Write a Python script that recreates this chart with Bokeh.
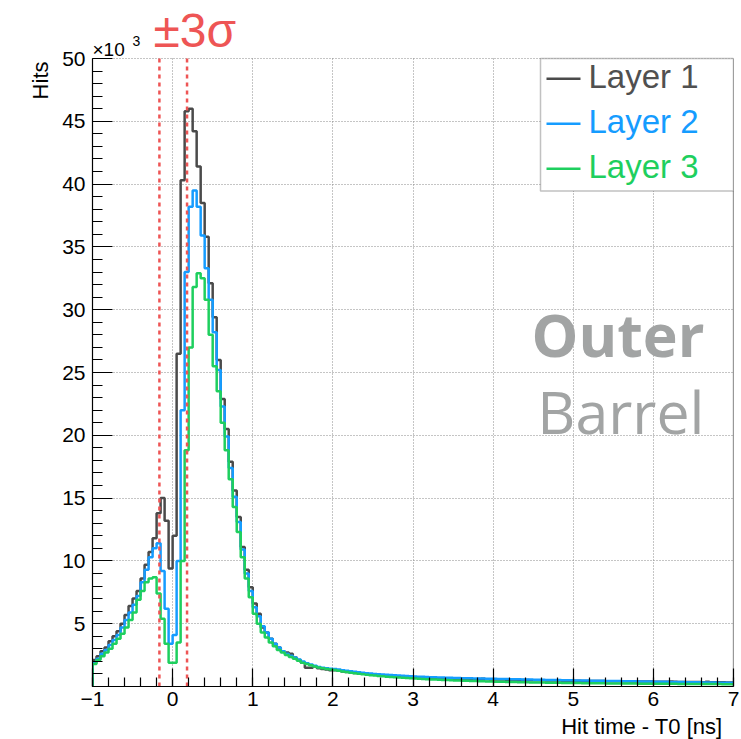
import numpy as np
from math import pi
from bokeh.plotting import figure
from bokeh.layouts import column, row
from bokeh.models import Label, BoxAnnotation, FixedTicker, ColumnDataSource
from bokeh.embed import file_html
from bokeh.resources import INLINE

# ---------------- data (hits in units of 10^3 per 0.05 ns bin) ----------------
X_MIN, X_MAX, N_BINS = -1.0, 7.0, 160
BIN_EDGES = np.linspace(X_MIN, X_MAX, N_BINS + 1)
Y_MAX = 50.0

LAYER1 = [
    2.1, 2.4, 2.8, 3.1, 3.6, 4.0, 4.4, 5.0, 5.7, 6.4,
    7.0, 7.6, 8.6, 9.7, 10.7, 11.8, 13.8, 15.0, 13.2, 9.4,
    12.0, 26.5, 40.3, 45.8, 46.0, 44.2, 41.4, 38.5, 35.8, 32.1,
    29.4, 26.0, 22.9, 20.5, 17.9, 15.6, 13.5, 11.1, 9.3, 7.9,
    6.6, 5.8, 4.7, 4.3, 3.8, 3.4, 3.1, 2.8, 2.7, 2.6,
    2.3, 2.1, 1.9, 1.5, 1.5, 1.6, 1.45, 1.4, 1.35, 1.3,
    1.30, 1.25, 1.20, 1.16, 1.12, 1.08, 1.05, 1.02, 0.99, 0.96,
    0.94, 0.91, 0.89, 0.87, 0.84, 0.82, 0.80, 0.79, 0.77, 0.75,
    0.74, 0.72, 0.71, 0.70, 0.68, 0.67, 0.66, 0.65, 0.64, 0.63,
    0.62, 0.61, 0.60, 0.60, 0.59, 0.58, 0.60, 0.62, 0.58, 0.56,
    0.56, 0.55, 0.55, 0.54, 0.53, 0.53, 0.52, 0.52, 0.51, 0.50,
    0.50, 0.49, 0.49, 0.48, 0.48, 0.47, 0.47, 0.46, 0.46, 0.45,
    0.45, 0.45, 0.44, 0.44, 0.44, 0.43, 0.43, 0.43, 0.42, 0.42,
    0.42, 0.41, 0.41, 0.41, 0.40, 0.40, 0.40, 0.39, 0.39, 0.39,
    0.38, 0.38, 0.38, 0.37, 0.40, 0.37, 0.36, 0.36, 0.36, 0.35,
    0.35, 0.35, 0.34, 0.38, 0.34, 0.33, 0.33, 0.33, 0.32, 0.32,
]
LAYER2 = [
    1.9, 2.2, 2.6, 2.9, 3.3, 3.7, 4.1, 4.7, 5.3, 5.9,
    6.5, 7.2, 8.3, 9.3, 10.3, 11.0, 11.4, 9.2, 6.2, 3.4,
    4.1, 10.0, 22.0, 33.0, 38.2, 39.5, 38.2, 35.9, 33.3, 30.8,
    28.2, 25.2, 22.3, 19.9, 17.4, 15.1, 13.1, 10.9, 9.0, 7.6,
    6.3, 5.6, 4.8, 4.3, 3.8, 3.4, 3.1, 2.8, 2.6, 2.45,
    2.3, 2.15, 2.0, 1.85, 1.75, 1.65, 1.55, 1.5, 1.45, 1.42,
    1.40, 1.35, 1.30, 1.25, 1.21, 1.17, 1.13, 1.10, 1.06, 1.03,
    1.00, 0.98, 0.95, 0.93, 0.91, 0.89, 0.87, 0.85, 0.83, 0.81,
    0.80, 0.78, 0.77, 0.76, 0.74, 0.73, 0.72, 0.71, 0.70, 0.69,
    0.68, 0.67, 0.66, 0.66, 0.65, 0.64, 0.63, 0.63, 0.62, 0.61,
    0.61, 0.60, 0.59, 0.59, 0.58, 0.57, 0.57, 0.56, 0.55, 0.55,
    0.54, 0.54, 0.53, 0.52, 0.52, 0.51, 0.51, 0.50, 0.50, 0.49,
    0.48, 0.48, 0.47, 0.47, 0.46, 0.46, 0.45, 0.45, 0.44, 0.44,
    0.43, 0.43, 0.42, 0.42, 0.41, 0.41, 0.40, 0.40, 0.39, 0.39,
    0.38, 0.38, 0.37, 0.37, 0.36, 0.36, 0.35, 0.35, 0.34, 0.34,
    0.33, 0.33, 0.32, 0.32, 0.31, 0.31, 0.30, 0.30, 0.29, 0.29,
]
LAYER3 = [
    1.8, 2.1, 2.4, 2.7, 3.0, 3.4, 3.8, 4.2, 4.7, 5.3,
    5.9, 6.9, 7.6, 8.3, 8.6, 8.7, 7.4, 5.4, 3.4, 1.9,
    1.9, 3.5, 10.0, 18.8, 27.0, 31.8, 32.9, 32.5, 30.8, 28.0,
    25.5, 23.5, 21.0, 18.8, 16.5, 14.3, 12.3, 10.3, 8.6, 7.1,
    5.8, 5.0, 4.3, 3.9, 3.5, 3.2, 2.9, 2.7, 2.5, 2.35,
    2.2, 2.05, 1.9, 1.8, 1.7, 1.6, 1.52, 1.46, 1.4, 1.36,
    1.32, 1.26, 1.20, 1.15, 1.10, 1.05, 1.01, 0.97, 0.93, 0.90,
    0.87, 0.84, 0.81, 0.78, 0.76, 0.73, 0.71, 0.69, 0.67, 0.65,
    0.63, 0.61, 0.60, 0.58, 0.56, 0.55, 0.53, 0.52, 0.51, 0.49,
    0.48, 0.47, 0.46, 0.45, 0.44, 0.43, 0.42, 0.41, 0.40, 0.39,
    0.38, 0.38, 0.37, 0.36, 0.35, 0.35, 0.34, 0.33, 0.33, 0.32,
    0.32, 0.31, 0.31, 0.30, 0.30, 0.29, 0.29, 0.28, 0.28, 0.27,
    0.27, 0.27, 0.26, 0.26, 0.26, 0.25, 0.25, 0.25, 0.24, 0.24,
    0.24, 0.24, 0.23, 0.23, 0.23, 0.23, 0.22, 0.22, 0.22, 0.22,
    0.22, 0.21, 0.21, 0.21, 0.21, 0.21, 0.20, 0.20, 0.20, 0.20,
    0.20, 0.20, 0.19, 0.19, 0.19, 0.19, 0.19, 0.18, 0.18, 0.18,
]
SERIES_NAMES = ["Layer 1", "Layer 2", "Layer 3"]
SERIES = [LAYER1, LAYER2, LAYER3]
LINE_COLORS = ["#4a4a4a", "#159cff", "#1ecf5e"]
TEXT_COLORS = ["#505050", "#159cff", "#1ecf5e"]

SIGMA_LINES = [-0.165, 0.18]          # +-3 sigma window [ns]
X_TICKS = [-1, 0, 1, 2, 3, 4, 5, 6, 7]
X_MINOR = [round(-1 + 0.2 * i, 2) for i in range(41)]
Y_TICKS = [5, 10, 15, 20, 25, 30, 35, 40, 45, 50]
Y_MINOR = list(range(0, 51))

# ---------------- layout (pixels of the 741x739 page) ----------------
W, H = 741, 739
LEFT_W = 58          # strip holding the "Hits" title
BOTTOM_H = 25        # strip holding the x title
FL, FR, FT, FB = 92, 733, 58, 686   # edges of the drawn box (y=0..50)
MAIN_H = H - BOTTOM_H


def dx(px):
    return X_MIN + (px - FL) * (X_MAX - X_MIN) / (FR - FL)


def dy(py):
    return (FB - py) * Y_MAX / (FB - FT)


FONT = "Liberation Sans"

# main figure: the frame reaches up to the top of the page so the texts
# above the box are not clipped; axis and grids are bounded to 0..50
p = figure(width=W - LEFT_W, height=MAIN_H, x_range=(X_MIN, X_MAX), y_range=(0, dy(0)),
           min_border_left=FL - LEFT_W, min_border_right=W - FR, min_border_top=0,
           min_border_bottom=MAIN_H - FB, toolbar_location=None, output_backend="svg")
p.background_fill_color = "white"
p.border_fill_color = "white"
p.outline_line_color = None

for ax in (p.xaxis[0], p.yaxis[0]):
    ax.axis_line_color = "black"
    ax.axis_line_width = 1.2
    ax.major_tick_line_color = "black"
    ax.minor_tick_line_color = "black"
    ax.major_tick_line_width = 1.2
    ax.minor_tick_line_width = 1.2
    ax.major_tick_out = 0
    ax.minor_tick_out = 0
    ax.major_label_text_font = FONT
    ax.major_label_text_font_size = "21px"
    ax.major_label_text_color = "black"

p.xaxis.ticker = FixedTicker(ticks=X_TICKS, minor_ticks=X_MINOR)
p.yaxis.ticker = FixedTicker(ticks=Y_TICKS, minor_ticks=Y_MINOR)
p.yaxis.bounds = (0, Y_MAX)
p.xaxis.major_tick_in = 18
p.xaxis.minor_tick_in = 9
p.yaxis.major_tick_in = 20
p.yaxis.minor_tick_in = 10
p.xaxis.major_label_standoff = 5
p.yaxis.major_label_standoff = 7

p.grid.grid_line_color = "#8a8a8a"
p.grid.grid_line_dash = "1 2"
p.grid.grid_line_width = 1
p.xgrid.cross_bounds = (0, Y_MAX)

# right edge of the box
p.segment(x0=[X_MAX], y0=[0], x1=[X_MAX], y1=[Y_MAX], line_color="#333333", line_width=1.2)

# ---------------- histograms ----------------
for vals, col in zip(SERIES, LINE_COLORS):
    xs = [X_MIN] + list(BIN_EDGES)
    ys = [0.0] + list(vals) + [vals[-1]]
    src = ColumnDataSource(dict(x=xs, y=ys))
    p.step("x", "y", source=src, mode="after", line_color=col, line_width=2.5)

# +-3 sigma lines
p.segment(x0=SIGMA_LINES, y0=[0] * len(SIGMA_LINES), x1=SIGMA_LINES,
          y1=[Y_MAX] * len(SIGMA_LINES), line_color="#ee5555", line_dash="4 4", line_width=2.5)

# ---------------- legend ----------------
p.add_layout(BoxAnnotation(left=dx(540), right=X_MAX, top=Y_MAX, bottom=dy(190.5),
                           fill_color="white", fill_alpha=1.0,
                           line_color="#333333", line_width=1.5))
leg_rows = [78.3, 123.3, 168.3]
leg_src = ColumnDataSource(dict(
    x0=[dx(546)] * 3, x1=[dx(580)] * 3, y=[dy(r) for r in leg_rows], c=LINE_COLORS))
seg = p.segment("x0", "y", "x1", "y", source=leg_src, line_color="c", line_width=2.5)
seg.level = "overlay"
for name, tc, r in zip(SERIES_NAMES, TEXT_COLORS, leg_rows):
    p.add_layout(Label(x=dx(588), y=dy(r - 2), text=name, text_color=tc,
                       text_font=FONT, text_font_size="33px",
                       text_baseline="middle", text_align="left", level="overlay"))


def mid_label(fig_px_x, fig_py, text, size, color="black", font=FONT, style="normal",
              align="left"):
    return Label(x=dx(fig_px_x), y=dy(fig_py), text=text, text_align=align,
                 text_baseline="middle", text_font=font, text_font_size=size,
                 text_font_style=style, text_color=color)


p.add_layout(mid_label(92, 49.2, "×10", "19px"))
p.add_layout(mid_label(132, 40, "3", "14px"))
p.add_layout(mid_label(153, 30, "±3σ", "48px", color="#ee5555"))
p.add_layout(mid_label(704, 333, "Outer", "59px", color="#a2a4a4", font="Open Sans",
                       style="bold", align="right"))
p.add_layout(mid_label(704, 410, "Barrel", "59px", color="#a2a4a4", font="Open Sans",
                       align="right"))


def strip(w, h, bottom_border=0):
    s = figure(width=w, height=h, x_range=(0, w), y_range=(0, h - bottom_border),
               x_axis_type=None, y_axis_type=None, min_border=0,
               min_border_bottom=bottom_border, toolbar_location=None, output_backend="svg")
    s.grid.visible = False
    s.outline_line_color = None
    s.background_fill_color = "white"
    s.border_fill_color = "white"
    return s


# left strip (frame aligned with main frame: page y 0..FB)
left = strip(LEFT_W, MAIN_H, bottom_border=MAIN_H - FB)
left.add_layout(Label(x=39.5, y=FB - 61, text="Hits", angle=pi / 2, text_align="right",
                      text_baseline="middle", text_font=FONT, text_font_size="22px",
                      text_color="black"))

# bottom strip: x title
bottom = strip(W, BOTTOM_H)
bottom.add_layout(Label(x=722, y=H - 725.8, text="Hit time - T0 [ns]", text_align="right",
                        text_baseline="middle", text_font=FONT, text_font_size="22px",
                        text_color="black"))

layout = column(row(left, p, spacing=0), bottom, spacing=0)
open("out.html", "w").write(file_html(layout, INLINE))
